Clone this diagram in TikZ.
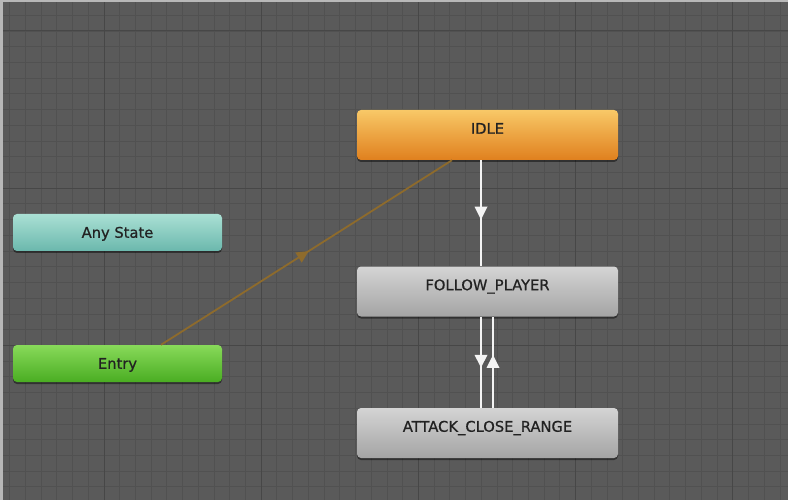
\documentclass[tikz,border=0pt]{standalone}
\usepackage{fontspec}
\setmainfont[FakeBold=0.7]{DejaVu Sans}
\usetikzlibrary{shadows,decorations.markings}
\definecolor{bg}{HTML}{5A5A5A}
\definecolor{gminor}{HTML}{515151}
\definecolor{gmajor}{HTML}{474747}
\definecolor{edgec}{HTML}{B8B8B8}
\definecolor{txt}{HTML}{222222}
\definecolor{transc}{HTML}{F4F4F4}
\definecolor{entryline}{HTML}{8E6B2C}
\tikzset{
  statebox/.style={rounded corners=4pt, inner sep=0pt, text=txt,
    font=\fontsize{14.7}{16}\selectfont,
    drop shadow={shadow xshift=0pt, shadow yshift=-2pt, opacity=0.45, fill=black}},
  bigbox/.style={statebox, minimum width=261pt, minimum height=50pt,
    text height=10.5pt, text depth=13pt},
  smallbox/.style={statebox, minimum width=209pt, minimum height=37pt,
    text height=10.5pt, text depth=0pt},
  graystate/.style={top color=gr1, bottom color=gr2},
  midtri/.style={postaction={decorate}, decoration={markings,
    mark=at position #1 with {\fill[transc] (6.3,0) -- (-6.5,6.5) -- (-6.5,-6.5) -- cycle;}}},
  trans/.style={draw=transc, line width=1.8pt},
}
\definecolor{or1}{HTML}{F8C867}
\definecolor{or2}{HTML}{E0801E}
\definecolor{gr1}{HTML}{D4D4D4}
\definecolor{gr2}{HTML}{A4A4A4}
\definecolor{tq1}{HTML}{AAE0D4}
\definecolor{tq2}{HTML}{6BB8AD}
\definecolor{gn1}{HTML}{88DA5A}
\definecolor{gn2}{HTML}{4AAD22}
\begin{document}
\begin{tikzpicture}[x=1pt,y=-1pt]
  \fill[bg] (0,0) rectangle (788,500);
  \useasboundingbox (0,0) rectangle (788,500);
  % grid
  \foreach \k in {-6,...,43} {
    \pgfmathsetmacro{\xx}{104+15.72*\k}
    \draw[gminor, line width=0.9pt] (\xx,0) -- (\xx,500);
  }
  \foreach \k in {-1,...,30} {
    \pgfmathsetmacro{\yy}{31+15.72*\k}
    \draw[gminor, line width=0.9pt] (0,\yy) -- (788,\yy);
  }
  \foreach \k in {0,10,20,30,40} {
    \pgfmathsetmacro{\xx}{104+15.72*\k}
    \draw[gmajor, line width=1pt] (\xx,0) -- (\xx,500);
  }
  \foreach \k in {0,10,20,30} {
    \pgfmathsetmacro{\yy}{31+15.72*\k}
    \draw[gmajor, line width=1pt] (0,\yy) -- (788,\yy);
  }
  \fill[edgec] (0,0) rectangle (788,2.5);
  \fill[edgec] (0,0) rectangle (2.5,500);

  % states
  \node[bigbox, top color=or1, bottom color=or2] (idle) at (487.5,135) {IDLE};
  \node[bigbox, graystate] (follow) at (487.5,291.5) {FOLLOW\_PLAYER};
  \node[bigbox, graystate] (attack) at (487.5,433) {ATTACK\_CLOSE\_RANGE};
  \node[smallbox, top color=tq1, bottom color=tq2] (any) at (117.5,232.5) {Any State};
  \node[smallbox, top color=gn1, bottom color=gn2] (entry) at (117.5,363.5) {Entry};

  % transitions
  \draw[draw=entryline, line width=1.8pt,
    postaction={decorate}, decoration={markings,
      mark=at position 0.49 with {\fill[entryline] (6,0) -- (-6,6) -- (-6,-6) -- cycle;}}]
    ([xshift=43.5pt]entry.north) -- ([xshift=-35.5pt]idle.south);
  \draw[trans, midtri=0.5] ([xshift=-6.5pt]idle.south) -- ([xshift=-6.5pt]follow.north);
  \draw[trans, midtri=0.49] ([xshift=-6.5pt]follow.south) -- ([xshift=-6.5pt]attack.north);
  \draw[trans, midtri=0.51] ([xshift=5.5pt]attack.north) -- ([xshift=5.5pt]follow.south);
\end{tikzpicture}
\end{document}
